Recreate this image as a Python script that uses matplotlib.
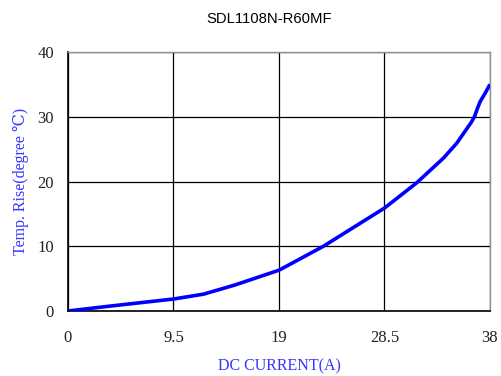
import matplotlib
matplotlib.use("Agg")
import matplotlib.pyplot as plt

current = [0, 4, 9.5, 12.2, 15, 19, 23, 28.5, 31.4, 33.8, 35.0, 35.85, 36.3, 36.6, 36.85, 37.1, 37.55, 38]
temp_rise = [0, 0.8, 1.85, 2.6, 4.0, 6.3, 10, 15.9, 19.8, 23.6, 25.9, 28.0, 29.1, 30.0, 31.2, 32.3, 33.6, 35]
x_ticks = [0, 9.5, 19, 28.5, 38]
x_tick_labels = ["0", "9.5", "19", "28.5", "38"]
y_ticks = [0, 10, 20, 30, 40]

serif = ["Liberation Serif", "DejaVu Serif"]
label_color = "#3636ff"

fig = plt.figure(figsize=(5.02, 3.76), dpi=100)
ax = fig.add_axes([68/502, 1-311/376, (490-68)/502, (311-52)/376])

ax.plot(current, temp_rise, color="#0000ff", lw=2.6, solid_capstyle="butt",
        solid_joinstyle="round", zorder=3)

ax.set_xlim(0, 38)
ax.set_ylim(0, 40)
ax.set_xticks(x_ticks)
ax.set_xticklabels(x_tick_labels)
ax.set_yticks(y_ticks)
ax.grid(True, color="black", lw=0.9)
ax.tick_params(axis="both", length=0, labelsize=12, colors="#222222")
ax.tick_params(axis="x", pad=13.5)
ax.tick_params(axis="y", pad=10)
for lab in ax.get_xticklabels() + ax.get_yticklabels():
    lab.set_family(serif)

for s in ["left", "bottom"]:
    ax.spines[s].set_color("black")
    ax.spines[s].set_linewidth(1.2)
for s in ["top", "right"]:
    ax.spines[s].set_color("#909090")
    ax.spines[s].set_linewidth(1.0)

fig.text(279/502, 1-366/376, "DC CURRENT(A)", ha="center", va="center",
         fontsize=11.5, color=label_color, family=serif)
fig.text(21/502, 1-181/376, "Temp. Rise(degree ℃)", ha="center", va="center",
         rotation=90, fontsize=11.5, color=label_color, family=serif)
fig.text(269.5/502, 1-19/376, "SDL1108N-R60MF", ha="center", va="center",
         fontsize=10.7, color="black", family=["Liberation Sans", "DejaVu Sans"])

fig.savefig("out.png", dpi=100)
